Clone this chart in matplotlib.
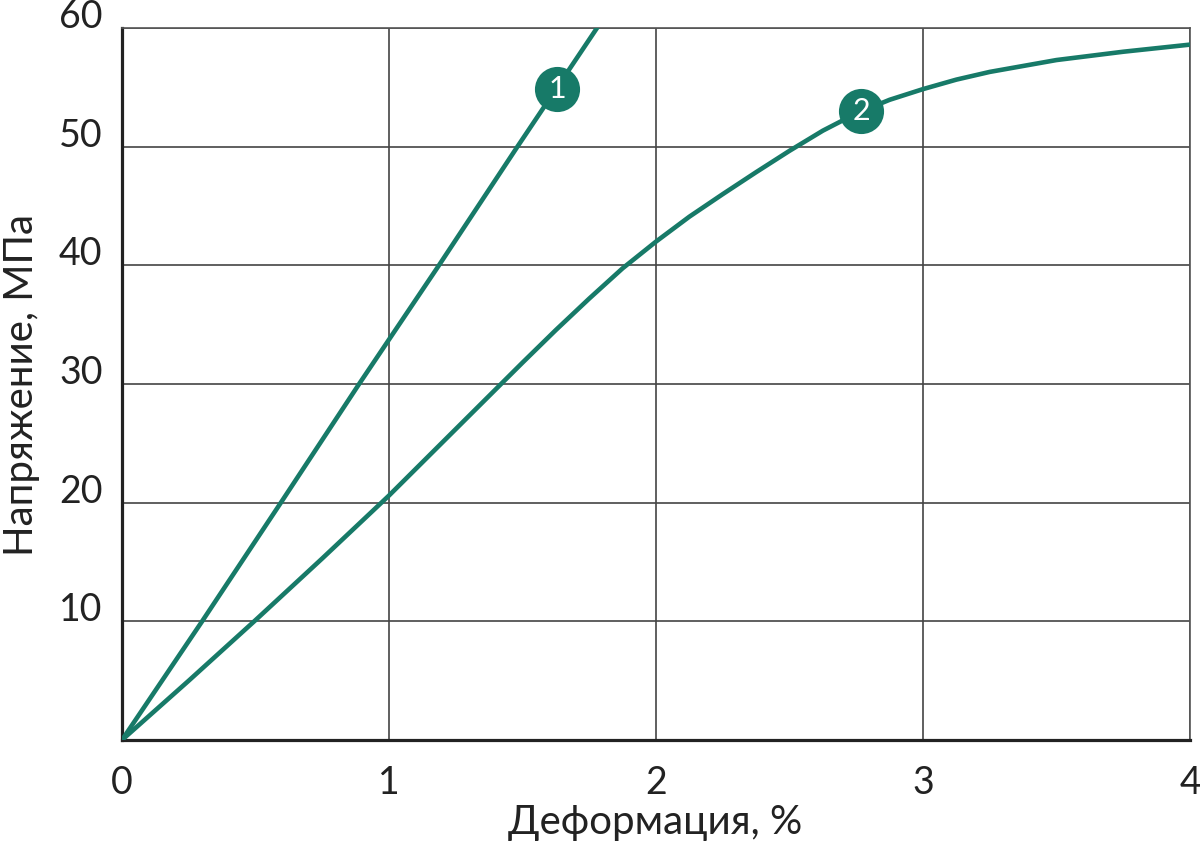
import matplotlib.pyplot as plt

# curve 1
strain_1 = [0, 0.30, 0.595, 0.888, 1.187, 1.481, 1.779]
stress_1 = [0, 10, 20, 30, 40, 50, 60]

# curve 2
strain_2 = [0, 0.25, 0.5, 0.75, 1.0, 1.25, 1.5, 1.625, 1.75, 1.875, 2.0,
            2.125, 2.25, 2.375, 2.5, 2.625, 2.75, 2.875, 3.0, 3.125, 3.25,
            3.5, 3.75, 4.0]
stress_2 = [0, 5.0, 10.1, 15.3, 20.6, 26.2, 31.8, 34.55, 37.2, 39.75, 42.0,
            44.1, 46.0, 47.85, 49.65, 51.35, 52.8, 53.95, 54.85, 55.65, 56.3,
            57.3, 58.0, 58.6]

# numbered labels sitting on the curves
label_x = [1.63, 2.768]
label_y = [54.9, 53.0]
label_txt = ['1', '2']

x_ticks = [0, 1, 2, 3, 4]
y_ticks = [10, 20, 30, 40, 50, 60]

green = '#177a68'
ink = '#222222'
plt.rcParams['font.family'] = ['Lato', 'DejaVu Sans']

fig = plt.figure(figsize=(12, 8.46), dpi=100)
ax = fig.add_axes([122/1200, 1-740/846, 1068/1200, 712/846])

ax.plot(strain_1, stress_1, color=green, lw=3.3, solid_joinstyle='round', zorder=3)
ax.plot(strain_2, stress_2, color=green, lw=3.3, solid_joinstyle='round', zorder=3)
ax.plot(label_x, label_y, 'o', ms=32.5, color=green, mew=0, zorder=4)
for lx, ly, t in zip(label_x, label_y, label_txt):
    ax.text(lx, ly, t, color='white', fontsize=22, ha='center', va='center',
            zorder=5)

ax.set_xlim(0, 4)
ax.set_ylim(0, 60)
ax.set_xticks(x_ticks)
ax.set_yticks(y_ticks)
ax.grid(True, color='#444444', lw=1.2)
ax.set_axisbelow(True)

for side in ['top', 'right']:
    ax.spines[side].set_color('#555555')
    ax.spines[side].set_linewidth(1.2)
for side in ['left', 'bottom']:
    ax.spines[side].set_color(ink)
    ax.spines[side].set_linewidth(2.3)

ax.tick_params(axis='both', length=0, labelsize=27, labelcolor=ink)
ax.tick_params(axis='y', pad=14)
ax.tick_params(axis='x', pad=18)
for lab in ax.get_yticklabels():
    lab.set_va('baseline')

fig.text(22/1200, 1-385/846, 'Напряжение, МПа', rotation=90, fontsize=29,
         ha='center', va='center', color=ink)
fig.text(655/1200, 1-822/846, 'Деформация, %', fontsize=29,
         ha='center', va='center', color=ink)

fig.savefig('out.png', dpi=100)
